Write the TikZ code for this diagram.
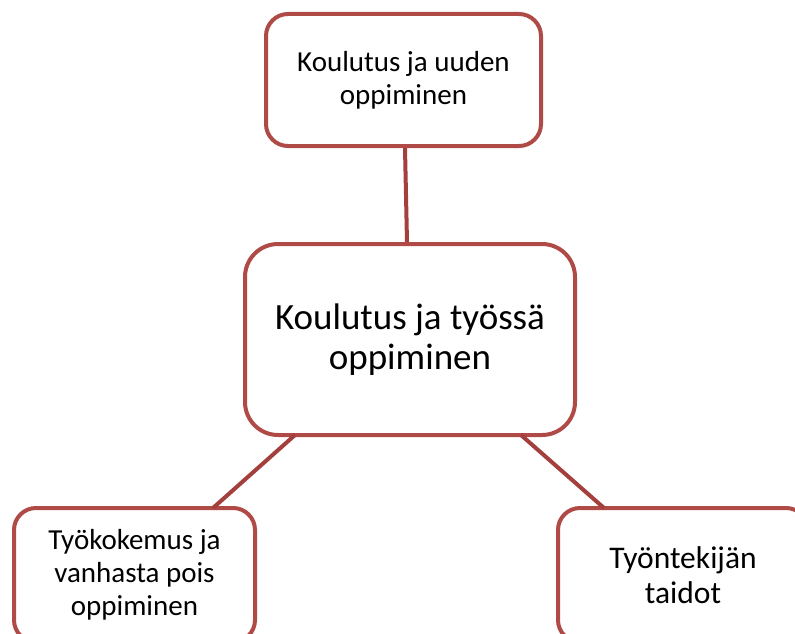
\documentclass[tikz,border=0pt]{standalone}
\usepackage{fontspec}
\setmainfont{Carlito}
\definecolor{boxred}{HTML}{B04A47}
\definecolor{linered}{HTML}{A33F3D}
\begin{document}
\begin{tikzpicture}[x=1pt,y=-1pt,
  box/.style={draw=boxred,line width=4pt,rounded corners=22pt,fill=white,align=center,inner sep=0pt},
  conn/.style={draw=linered,line width=4pt}]
\useasboundingbox (0,0) rectangle (795,634);
\clip (0,0) rectangle (795,634);
\node[box,minimum width=275pt,minimum height=132pt,font=\fontsize{29}{33}\selectfont] (top) at (403.5,80) {Koulutus ja uuden\\oppiminen};
\node[box,rounded corners=33pt,minimum width=330pt,minimum height=191pt,font=\fontsize{37}{40}\selectfont] (mid) at (410,339.5) {Koulutus ja työssä\\oppiminen};
\node[box,minimum width=241pt,minimum height=134pt,font=\fontsize{29}{33}\selectfont] (bl) at (134.5,575) {Työkokemus ja\\vanhasta pois\\oppiminen};
\node[box,minimum width=250pt,minimum height=134pt,font=\fontsize{31.5}{35}\selectfont] (br) at (683,575) {Työntekijän\\taidot};
\coordinate (t1) at (405,146);
\coordinate (t2) at (407,244);
\coordinate (l1) at (295,435);
\coordinate (l2) at (213,508);
\coordinate (r1) at (521,435);
\coordinate (r2) at (604,508);
\draw[conn] (top.south -| t1) -- (mid.north -| t2);
\draw[conn] (l1) -- (l2);
\draw[conn] (r1) -- (r2);
\end{tikzpicture}
\end{document}
